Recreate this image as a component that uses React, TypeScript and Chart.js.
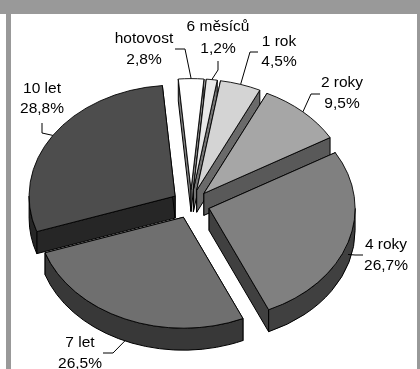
import React, { useEffect, useRef } from "react";
import { Chart, registerables } from "chart.js";

Chart.register(...registerables);

// Share of the portfolio by maturity, clockwise from the top.
const categories = ["hotovost", "6 měsíců", "1 rok", "2 roky", "4 roky", "7 let", "10 let"];
const shares = [2.8, 1.2, 4.5, 9.5, 26.7, 26.5, 28.8];
const faceColors = ["#ffffff", "#e8e8e8", "#d4d4d4", "#a6a6a6", "#808080", "#6f6f6f", "#4d4d4d"];
const wallColors = ["#808080", "#747474", "#6a6a6a", "#595959", "#404040", "#383838", "#262626"];

// Projection of the tilted pie.
const TILT = 0.76;
const DEPTH = 22;
const EXPLODE = 19;
const RADIUS = 146;
const ROTATION = -5;

// Callout layout: text centre, line baselines' centres, elbow points, and how
// far down the rim the leader attaches.
const callouts = [
  { cx: 144, y1: 39, y2: 60, path: [[185, 49], [175, 49]], drop: 0 },
  { cx: 218, y1: 27, y2: 49, path: [[218, 70], [218, 61]], drop: 0 },
  { cx: 279, y1: 42, y2: 62, path: [[250, 52], [258, 52]], drop: 0 },
  { cx: 342, y1: 83, y2: 104, path: [[311, 94], [320, 94]], drop: 0 },
  { cx: 386, y1: 245, y2: 266, path: [[355, 255], [363, 255]], drop: 12 },
  { cx: 80, y1: 343, y2: 364, path: [[113, 353], [103, 353]], drop: 22 },
  { cx: 42, y1: 89, y2: 109, path: [[42, 133], [42, 123]], drop: 0 },
];

const tiltedPie = {
  id: "tiltedPie",
  beforeDatasetDraw(chart: any) {
    const { ctx } = chart;
    const arcs = chart.getDatasetMeta(0).data;

    const geometry = arcs.map((el: any) => {
      const p = el.getProps(["x", "y", "startAngle", "endAngle", "outerRadius"], true);
      const mid = (p.startAngle + p.endAngle) / 2;
      const ox = p.x + Math.cos(mid) * EXPLODE;
      const oy = p.y + Math.sin(mid) * EXPLODE * TILT;
      return { ...p, mid, ox, oy, r: p.outerRadius };
    });

    ctx.save();
    ctx.lineWidth = 1;
    ctx.lineJoin = "miter";
    ctx.strokeStyle = "#000000";

    // Side walls go down first, back to front; the top faces cover what they hide.
    geometry.forEach((g: any, i: number) => {
      ctx.fillStyle = wallColors[i];
      [g.startAngle, g.endAngle].forEach((a: number) => {
        const ex = g.ox + g.r * Math.cos(a);
        const ey = g.oy + g.r * TILT * Math.sin(a);
        ctx.beginPath();
        ctx.moveTo(g.ox, g.oy);
        ctx.lineTo(ex, ey);
        ctx.lineTo(ex, ey + DEPTH);
        ctx.lineTo(g.ox, g.oy + DEPTH);
        ctx.closePath();
        ctx.fill();
        ctx.stroke();
      });
      const a0 = Math.max(g.startAngle, 0);
      const a1 = Math.min(g.endAngle, Math.PI);
      if (a1 > a0) {
        ctx.beginPath();
        ctx.ellipse(g.ox, g.oy, g.r, g.r * TILT, 0, a0, a1);
        ctx.ellipse(g.ox, g.oy + DEPTH, g.r, g.r * TILT, 0, a1, a0, true);
        ctx.closePath();
        ctx.fill();
        ctx.stroke();
      }
    });

    // Top faces are the library's own arcs, squashed and pulled out of the centre.
    arcs.forEach((el: any, i: number) => {
      const g = geometry[i];
      ctx.save();
      ctx.translate(g.ox, g.oy);
      ctx.scale(1, TILT);
      ctx.translate(-g.x, -g.y);
      el.draw(ctx);
      ctx.restore();
    });

    // Leader lines and callout text.
    ctx.font = '15.5px "Liberation Sans", Arial, sans-serif';
    ctx.textAlign = "center";
    ctx.textBaseline = "middle";
    geometry.forEach((g: any, i: number) => {
      const c = callouts[i];
      ctx.beginPath();
      ctx.moveTo(g.ox + g.r * Math.cos(g.mid), g.oy + g.r * TILT * Math.sin(g.mid) + c.drop);
      c.path.forEach(([x, y]) => ctx.lineTo(x, y));
      ctx.stroke();
      ctx.fillStyle = "#000000";
      ctx.fillText(categories[i], c.cx, c.y1);
      ctx.fillText(shares[i].toFixed(1).replace(".", ",") + "%", c.cx, c.y2);
    });
    ctx.restore();
    return false;
  },
};

export default function App() {
  const canvasRef = useRef<HTMLCanvasElement>(null);

  useEffect(() => {
    const chart = new Chart(canvasRef.current as HTMLCanvasElement, {
      type: "pie",
      data: {
        labels: categories,
        datasets: [
          {
            data: shares,
            backgroundColor: faceColors,
            borderColor: "#000000",
            borderWidth: 1,
            radius: RADIUS,
          },
        ],
      },
      options: {
        responsive: false,
        animation: false,
        rotation: ROTATION,
        layout: { padding: { top: 39, right: 38, left: 0, bottom: 0 } },
        plugins: { legend: { display: false }, tooltip: { enabled: false } },
      },
      plugins: [tiltedPie],
    } as any);
    return () => chart.destroy();
  }, []);

  const bar = (style: React.CSSProperties) => (
    <div style={{ position: "absolute", background: "#999999", ...style }} />
  );

  return (
    <div style={{ position: "fixed", left: 0, top: 0, width: 420, height: 369, background: "#ffffff", overflow: "hidden" }}>
      {bar({ left: 0, top: 0, width: 420, height: 14 })}
      {bar({ left: 6, top: 14, width: 5, height: 355 })}
      {bar({ left: 417, top: 14, width: 3, height: 355 })}
      <canvas ref={canvasRef} width={420} height={369} style={{ position: "absolute", left: 0, top: 0, display: "block" }} />
    </div>
  );
}
